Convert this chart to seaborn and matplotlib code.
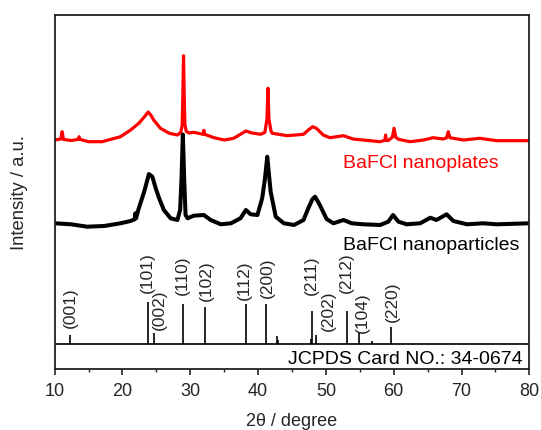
import matplotlib
matplotlib.use("Agg")
import matplotlib.pyplot as plt
import seaborn as sns
import pandas as pd
from matplotlib.ticker import MultipleLocator

# ---------------- data (plot units) ----------------
red_x = [10.0, 10.9, 11.1, 11.3, 12.5, 13.5, 13.6, 13.7, 15.0, 17.0, 19.7, 21.2,
         22.4, 23.3, 23.8, 24.2, 24.6, 25.6, 26.9, 28.1, 28.6, 28.8, 28.9, 29.0,
         29.1, 29.2, 29.4, 29.8, 30.5, 31.9, 32.0, 32.1, 33.5, 35.0, 36.4, 38.2,
         39.1, 40.4, 41.0, 41.3, 41.45, 41.6, 41.9, 42.1, 44.3, 46.7, 47.4, 48.05,
         48.6, 49.6, 50.6, 52.6, 54.0, 56.5, 58.0, 58.7, 58.8, 58.9, 59.2, 59.8,
         60.05, 60.3, 60.7, 62.4, 64.4, 65.8, 67.3, 67.8, 68.05, 68.3, 68.8, 70.3,
         72.7, 75.2, 80.0]
red_y = [229.3, 230.3, 237.6, 229.8, 228.8, 230.0, 232.6, 230.0, 227.6, 227.6, 232.6, 239.3,
         246.0, 253.0, 257.3, 254.0, 249.3, 241.0, 236.0, 234.3, 237.0, 244.0, 275.0, 313.6,
         275.0, 245.0, 238.0, 236.3, 237.0, 235.0, 239.0, 235.0, 231.6, 229.3, 231.0, 238.3,
         236.3, 235.0, 237.0, 250.0, 281.0, 250.0, 238.3, 236.0, 233.6, 235.0, 239.3, 242.6,
         241.0, 234.3, 231.6, 233.6, 230.3, 228.6, 227.6, 229.0, 234.3, 229.0, 228.8, 232.0,
         241.0, 232.0, 230.0, 227.6, 229.3, 231.6, 230.3, 231.5, 237.6, 231.5, 231.0, 229.3,
         231.0, 228.6, 228.6]

black_x = [10.0, 12.4, 14.8, 17.3, 19.7, 21.2, 21.8, 21.9, 22.0, 22.4, 23.2, 23.9,
           24.4, 24.9, 25.4, 26.1, 27.1, 28.1, 28.5, 28.7, 28.9, 29.1, 29.3, 29.6,
           30.5, 32.0, 33.0, 34.5, 36.0, 37.4, 38.2, 38.9, 39.9, 40.6, 41.0, 41.35,
           41.6, 41.85, 42.6, 43.8, 45.3, 46.7, 47.4, 48.0, 48.4, 48.8, 49.1, 50.1,
           51.1, 52.6, 53.8, 55.5, 58.0, 59.2, 59.9, 60.7, 61.9, 63.9, 65.4, 66.3,
           67.8, 68.8, 70.8, 73.2, 75.2, 80.0]
black_y = [146.0, 145.0, 142.6, 143.3, 146.0, 148.3, 150.0, 156.0, 151.0, 161.0, 177.6, 195.3,
           192.6, 181.0, 171.0, 159.3, 151.0, 149.3, 159.3, 190.0, 234.8, 190.0, 154.3, 151.0,
           153.6, 154.3, 149.3, 145.0, 146.0, 151.0, 159.3, 155.0, 154.3, 171.0, 190.0, 212.6,
           195.0, 177.6, 152.6, 146.0, 144.3, 149.3, 161.0, 170.0, 172.6, 168.0, 164.3, 150.3,
           146.0, 149.3, 146.0, 145.0, 144.3, 147.6, 154.3, 147.6, 145.0, 146.0, 151.6, 149.3,
           155.0, 148.3, 145.0, 146.0, 145.0, 146.0]

# JCPDS 34-0674 reference sticks
stick_x = [12.2, 23.7, 24.7, 28.85, 32.1, 38.2, 41.15, 42.8, 43.0, 47.75, 48.0, 48.5,
           53.15, 54.95, 56.75, 59.55]
stick_h = [9, 41.7, 11, 39.7, 37, 39.7, 39.7, 8, 4, 5, 33, 9, 33, 11, 3, 17]

hkl_labels = ["(001)", "(101)", "(002)", "(110)", "(102)", "(112)", "(200)",
              "(211)", "(202)", "(212)", "(104)", "(220)"]
hkl_x = [12.35, 23.6, 25.5, 28.8, 32.4, 38.0, 41.3, 47.9, 50.3, 53.05, 55.4, 59.8]
hkl_y = [41.3, 76.0, 38.8, 74.3, 67.8, 69.3, 70.8, 74.3, 38.3, 76.0, 36.3, 47.3]

label_plates = "BaFCl nanoplates"
label_particles = "BaFCl nanoparticles"
label_card = "JCPDS Card NO.: 34-0674"
card_line_y = 25.3
x_ticks = [10, 20, 30, 40, 50, 60, 70, 80]

# ---------------- figure ----------------
sns.set_style("ticks")
plt.rcParams["font.family"] = ["Liberation Sans", "DejaVu Sans"]

fig = plt.figure(figsize=(5.41, 4.30), dpi=100)
ax = fig.add_axes([0.1011, 0.1412, 0.8773, 0.8239])

red_df = pd.DataFrame({"x": red_x, "y": red_y})
black_df = pd.DataFrame({"x": black_x, "y": black_y})
sns.lineplot(data=red_df, x="x", y="y", color="#ff0000", lw=2.3, ax=ax,
             sort=False, estimator=None)
sns.lineplot(data=black_df, x="x", y="y", color="black", lw=2.9, ax=ax,
             sort=False, estimator=None)

ax.vlines(stick_x, card_line_y, [card_line_y + h for h in stick_h],
          color="black", lw=1.2)
ax.axhline(card_line_y, color="black", lw=1.2)

for t, xx, yy in zip(hkl_labels, hkl_x, hkl_y):
    ax.text(xx, yy, t, rotation=90, ha="center", va="bottom", fontsize=12.5)

ax.text(75.4, 206, label_plates, color="#ff0000", ha="right", va="center", fontsize=14)
ax.text(78.5, 123.3, label_particles, color="black", ha="right", va="center", fontsize=14)
ax.text(79.0, 10.1, label_card, color="black", ha="right", va="center", fontsize=14)

ax.set_xlim(10, 80)
ax.set_ylim(0, 354.3)
ax.set_xticks(x_ticks)
ax.xaxis.set_minor_locator(MultipleLocator(5))
ax.set_yticks([])
ax.tick_params(axis="x", which="major", direction="out", length=4, width=1.2,
               labelsize=13, pad=6)
ax.tick_params(axis="x", which="minor", direction="out", length=2.3, width=1.0)
for s in ax.spines.values():
    s.set_visible(True)
    s.set_linewidth(1.3)
    s.set_color("#222222")

ax.set_xlabel("2θ / degree", fontsize=13, labelpad=9)
ax.set_ylabel("Intensity / a.u.", fontsize=13.3, labelpad=19)

fig.savefig("out.png", dpi=100)
